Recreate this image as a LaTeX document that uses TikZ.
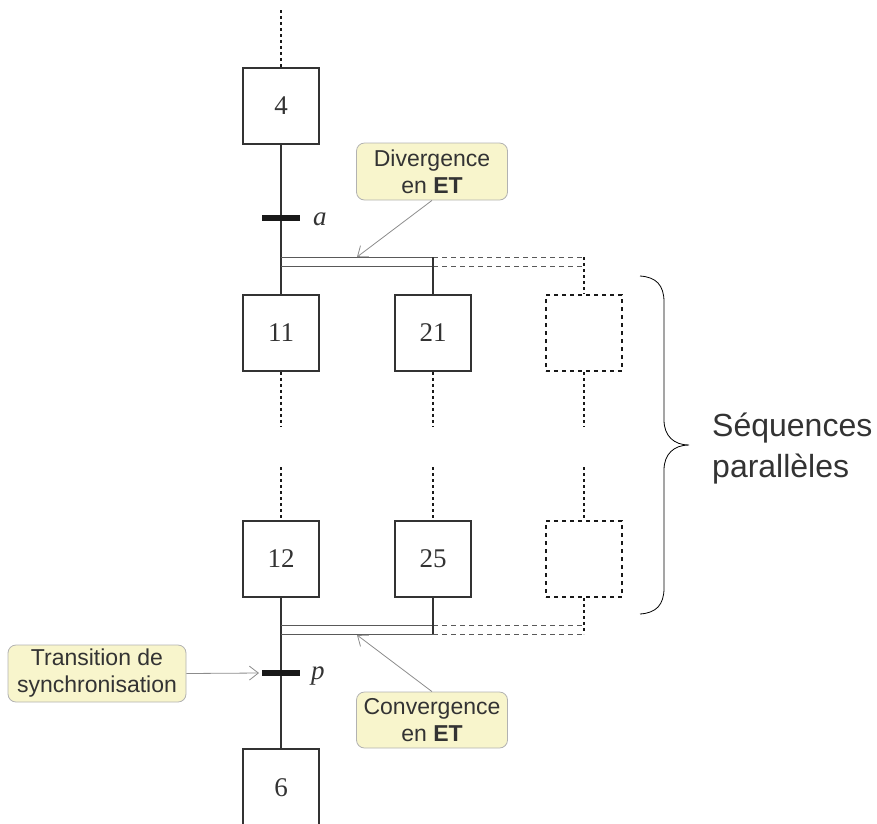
\documentclass[tikz,border=0pt]{standalone}
\usepackage{fontspec}
\setmainfont{Liberation Serif}
\setsansfont{Liberation Sans}
\usetikzlibrary{arrows.meta}
\definecolor{calloutfill}{HTML}{F8F5CC}
\definecolor{inkgrey}{HTML}{333333}
\begin{document}
\begin{tikzpicture}[x=1pt,y=-1pt,
  stepbox/.style={draw=inkgrey, line width=1.5pt, minimum width=76pt, minimum height=76pt, inner sep=0pt, font=\fontsize{27}{27}\selectfont, text=inkgrey},
  ghostbox/.style={draw=black!90, line width=2pt, dash pattern=on 4pt off 4pt, minimum width=76pt, minimum height=76pt, inner sep=0pt},
  transbar/.style={fill=black!90, minimum width=38pt, minimum height=6pt, inner sep=0pt},
  link/.style={draw=inkgrey, line width=1.5pt},
  dots/.style={draw=black!90, line width=2.5pt, dash pattern=on 3pt off 3pt},
  dbl/.style={draw=black!65, line width=1pt},
  dbldash/.style={draw=black!65, line width=1pt, dash pattern=on 5pt off 4pt},
  callout/.style={draw=black!30, line width=0.8pt, fill=calloutfill, rounded corners=8pt, font=\sffamily\fontsize{23}{27}\selectfont, align=center, text=inkgrey, inner sep=0pt},
  pointer/.style={draw=black!45, line width=0.8pt, -{Straight Barb[length=9pt,width=14pt]}},
  translabel/.style={font=\itshape\fontsize{27}{27}\selectfont, text=inkgrey, anchor=west, inner sep=0pt}
]
\useasboundingbox (0,0) rectangle (877,823);

% steps
\node[stepbox] (s4) at (281,106) {4};
\node[stepbox] (s11) at (281,333) {11};
\node[stepbox] (s21) at (433,333) {21};
\node[ghostbox] (g1) at (584,333) {};
\node[stepbox] (s12) at (281,559) {12};
\node[stepbox] (s25) at (433,559) {25};
\node[ghostbox] (g2) at (584,559) {};
\node[stepbox, minimum height=78pt] (s6) at (281,788) {6};

% coordinates
\coordinate (top4) at (281,10);
\coordinate (ta) at (281,218);
\coordinate (tp) at (281,673);
\coordinate (dA1) at (281,257);
\coordinate (dA2) at (433,257);
\coordinate (dA3) at (584,257);
\coordinate (dB1) at (281,266);
\coordinate (dB2) at (433,266);
\coordinate (dB3) at (584,266);
\coordinate (cA1) at (281,625);
\coordinate (cA2) at (433,625);
\coordinate (cA3) at (584,625);
\coordinate (cB1) at (281,634);
\coordinate (cB2) at (433,634);
\coordinate (cB3) at (584,634);
\coordinate (e11) at (281,427);
\coordinate (e21) at (433,427);
\coordinate (eg1) at (584,427);
\coordinate (b12) at (281,467);
\coordinate (b25) at (433,467);
\coordinate (bg2) at (584,467);

% dotted continuations
\draw[dots] (top4) -- (s4.north);
\draw[dots] (s11.south) -- (e11);
\draw[dots] (s21.south) -- (e21);
\draw[dots] (g1.south) -- (eg1);
\draw[dots] (b12) -- (s12.north);
\draw[dots] (b25) -- (s25.north);
\draw[dots] (bg2) -- (g2.north);
\draw[dots] (dA3) -- (g1.north);
\draw[dots] (g2.south) -- (cB3);

% divergence
\draw[link] (s4.south) -- (ta) -- (s11.north);
\draw[dbl] (dA1) -- (dA2);
\draw[dbl] (dB1) -- (dB2);
\draw[dbldash] (dA2) -- (dA3);
\draw[dbldash] (dB2) -- (dB3);
\draw[link] (dA2) -- (s21.north);

% convergence
\draw[link] (s12.south) -- (tp) -- (s6.north);
\draw[dbl] (cA1) -- (cA2);
\draw[dbl] (cB1) -- (cB2);
\draw[dbldash] (cA2) -- (cA3);
\draw[dbldash] (cB2) -- (cB3);
\draw[link] (s25.south) -- (cB2);

% transitions
\node[transbar] (tabar) at (ta) {};
\node[transbar] (tpbar) at (tp) {};
\node[translabel] (la) at (313,219) {a};
\node[translabel] (lp) at (311,676) {p};

% callouts
\node[callout, minimum width=151pt, minimum height=57pt] (cdiv) at (432,171.5) {Divergence\\en \textbf{ET}};
\node[callout, minimum width=151pt, minimum height=56pt] (cconv) at (432,720) {Convergence\\en \textbf{ET}};
\node[callout, minimum width=178pt, minimum height=57pt] (csync) at (97,673.5) {Transition de\\synchronisation};
\coordinate (pdiv) at (357,257);
\coordinate (pconv) at (357,635);
\coordinate (psync) at (259,673);
\draw[pointer] (cdiv.south) -- (pdiv);
\draw[pointer] (cconv.north) -- (pconv);
\draw[pointer] (csync.east) -- (psync);

% brace
\coordinate (brtop) at (640,276);
\coordinate (brtip) at (689,445);
\coordinate (brbot) at (640,614);
\draw[line width=0.8pt, black]
  (brtop) .. controls (656,277) and (664,285) .. (664,302)
  -- (664,420) .. controls (664,436) and (674,445) .. (brtip)
  .. controls (674,445) and (664,454) .. (664,470)
  -- (664,588) .. controls (664,605) and (656,613) .. (brbot);
\node[font=\sffamily\fontsize{32}{41}\selectfont, text=inkgrey, align=left, anchor=west, inner sep=0pt] (seq) at (712,449) {Séquences\\parallèles};
\end{tikzpicture}
\end{document}
